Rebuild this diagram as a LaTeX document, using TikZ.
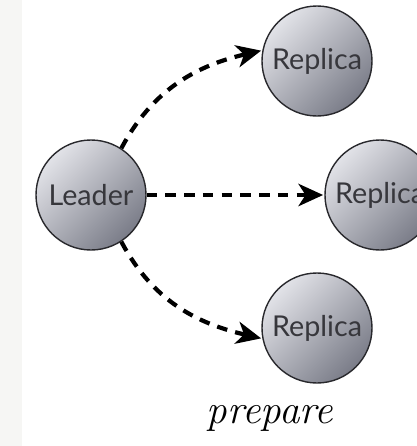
\documentclass[tikz,border=0pt]{standalone}
\usepackage{fontspec}
\setsansfont{Lato}
\usepackage{tikz}
\usetikzlibrary{positioning,arrows.meta}
\definecolor{nodelight}{RGB}{226,227,232}
\definecolor{nodedark}{RGB}{122,124,136}
\definecolor{nodeline}{RGB}{40,40,44}
\definecolor{nodetext}{RGB}{55,55,60}
\definecolor{stripgray}{RGB}{246,246,244}

\begin{document}
\begin{tikzpicture}[
	peer/.style={circle, minimum size=3.3cm, draw=nodeline, line width=1.2pt,
		shading=axis, top color=nodelight, bottom color=nodedark, shading angle=45,
		text=nodetext, font=\sffamily\fontsize{24.5}{28}\selectfont, inner sep=0pt},
	msg/.style={line width=3.6pt, dash pattern=on 9pt off 7pt,
		-{Stealth[length=21pt,width=19pt,inset=6pt]}, shorten >=1pt}
	]
	\useasboundingbox (0,0) rectangle (12.51,-13.38);
	\fill[stripgray] (0,0) rectangle (0.66,-13.38);
	\node[peer] (leader) at (2.73,-5.85) {Leader};
	\node[peer] (rtop) at (9.51,-1.83) {Replica};
	\node[peer] (rmid) at (11.4,-5.85) {Replica};
	\node[peer] (rbot) at (9.51,-9.84) {Replica};
	\node[font=\itshape\fontsize{35}{40}\selectfont] (phase) at (8.1,-12.55) {prepare};
	\draw[msg] (leader.57) to[out=62,in=193] (rtop.169);
	\draw[msg] (leader) -- (rmid);
	\draw[msg] (leader.-57) to[out=-62,in=167] (rbot.191);
\end{tikzpicture}
\end{document}
